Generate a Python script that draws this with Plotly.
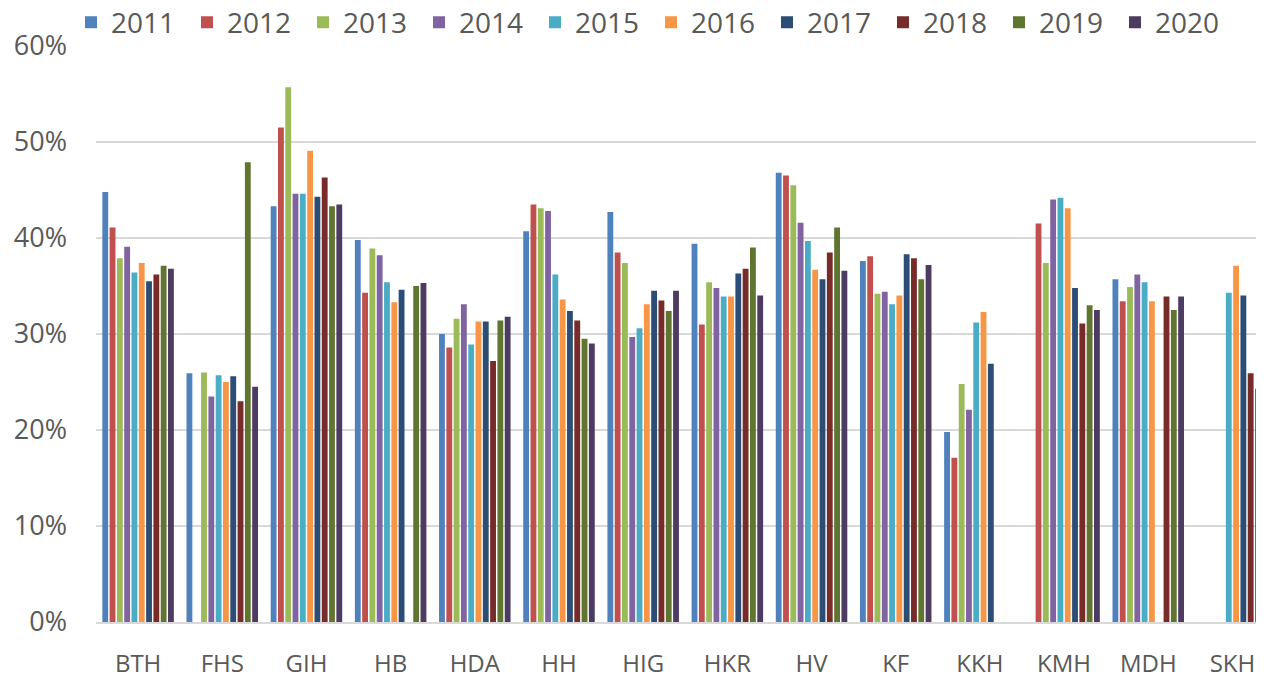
import plotly.graph_objects as go

categories = ["BTH", "FHS", "GIH", "HB", "HDA", "HH", "HIG", "HKR", "HV", "KF", "KKH", "KMH", "MDH", "SKH"]
years = ["2011", "2012", "2013", "2014", "2015", "2016", "2017", "2018", "2019", "2020"]

# values in percent, per year (None = no bar)
v2011 = [44.8, 25.9, 43.3, 39.8, 30.0, 40.7, 42.7, 39.4, 46.8, 37.6, 19.8, None, 35.7, None]
v2012 = [41.1, None, 51.5, 34.3, 28.6, 43.5, 38.5, 31.0, 46.5, 38.1, 17.1, 41.5, 33.4, None]
v2013 = [37.9, 26.0, 55.7, 38.9, 31.6, 43.1, 37.4, 35.4, 45.5, 34.2, 24.8, 37.4, 34.9, None]
v2014 = [39.1, 23.5, 44.6, 38.2, 33.1, 42.8, 29.7, 34.8, 41.6, 34.4, 22.1, 44.0, 36.2, None]
v2015 = [36.4, 25.7, 44.6, 35.4, 28.9, 36.2, 30.6, 33.9, 39.7, 33.1, 31.2, 44.2, 35.4, 34.3]
v2016 = [37.4, 25.0, 49.1, 33.3, 31.3, 33.6, 33.1, 33.9, 36.7, 34.0, 32.3, 43.1, 33.4, 37.1]
v2017 = [35.5, 25.6, 44.3, 34.6, 31.3, 32.4, 34.5, 36.3, 35.7, 38.3, 26.9, 34.8, None, 34.0]
v2018 = [36.2, 23.0, 46.3, None, 27.2, 31.4, 33.5, 36.8, 38.5, 37.9, None, 31.1, 33.9, 25.9]
v2019 = [37.1, 47.9, 43.3, 35.0, 31.4, 29.5, 32.4, 39.0, 41.1, 35.7, None, 33.0, 32.5, 24.3]
v2020 = [36.8, 24.5, 43.5, 35.3, 31.8, 29.0, 34.5, 34.0, 36.6, 37.2, None, 32.5, 33.9, 23.8]

series = [v2011, v2012, v2013, v2014, v2015, v2016, v2017, v2018, v2019, v2020]
colors = ["#4F81BD", "#C0504D", "#9BBB59", "#8064A2", "#4BACC6",
          "#F79646", "#2C4D75", "#772C2A", "#5F7530", "#4D3B62"]

FONT = "Open Sans"
TXT = "#595959"

fig = go.Figure()
for name, vals, col in zip(years, series, colors):
    fig.add_trace(go.Bar(
        name=name,
        x=categories,
        y=[None if v is None else v / 100 for v in vals],
        marker=dict(color=col, line=dict(width=0)),
    ))

# page body has an 8px default margin, so the figure is 8px smaller and shifted
fig.update_layout(
    width=1256, height=667,
    barmode="group", bargap=0.133, bargroupgap=0.2,
    plot_bgcolor="white", paper_bgcolor="white",
    margin=dict(l=88, r=0, t=38, b=53, autoexpand=False),
    font=dict(family=FONT, size=24, color=TXT),
    legend=dict(
        orientation="h", xref="paper", yref="paper",
        x=-0.0214, xanchor="left", y=1.084, yanchor="top",
        font=dict(family=FONT, size=28, color=TXT),
        entrywidth=71, entrywidthmode="pixels",
        itemwidth=30, tracegroupgap=0,
        bgcolor="rgba(0,0,0,0)",
    ),
    showlegend=True,
)
fig.update_xaxes(
    range=[-0.5, 13.375], automargin=False,
    showgrid=False, showline=True, linecolor="#d9d9d9", linewidth=2,
    ticks="", tickfont=dict(family=FONT, size=24, color=TXT),
    ticklabelstandoff=19,
)
fig.update_yaxes(
    range=[0, 0.6], dtick=0.1, tickformat=".0%", automargin=False,
    showgrid=True, gridcolor="#d9d9d9", gridwidth=1.5,
    zeroline=False, showline=False, ticks="",
    tickfont=dict(family=FONT, size=27, color=TXT),
    ticklabelstandoff=28,
)

fig.write_html("out.html")
